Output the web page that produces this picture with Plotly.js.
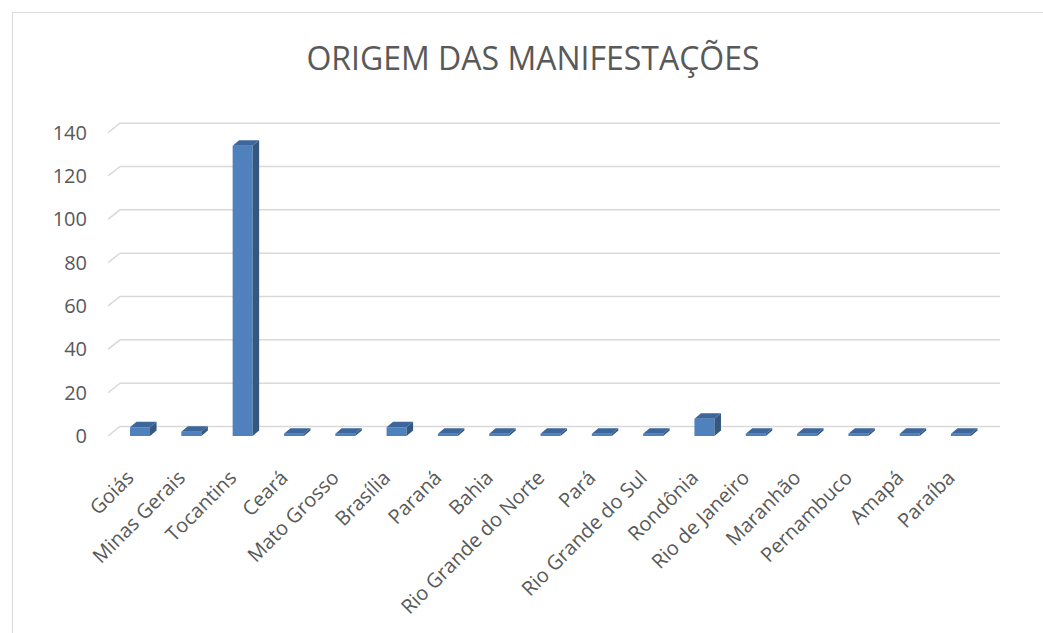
<!DOCTYPE html>
<html>
<head>
<meta charset="utf-8">
<script src="https://cdn.plot.ly/plotly-3.0.1.min.js"></script>
<style>
  html, body { margin: 0; padding: 0; background: #fff; overflow: hidden; }
  #chart { width: 1043px; height: 633px; position: relative; }
  #frame { position: absolute; left: 12px; top: 12px; width: 1100px; height: 700px;
           border: 1px solid #d9d9d9; pointer-events: none; box-sizing: border-box; }
</style>
</head>
<body>
<div id="chart"></div>
<div id="frame"></div>
<script>
const categories = ["Goiás", "Minas Gerais", "Tocantins", "Ceará", "Mato Grosso", "Brasília",
  "Paraná", "Bahia", "Rio Grande do Norte", "Pará", "Rio Grande do Sul", "Rondônia",
  "Rio de Janeiro", "Maranhão", "Pernambuco", "Amapá", "Paraíba"];
const values = [4, 2, 134, 1, 1, 4, 1, 1, 1, 1, 1, 8, 1, 1, 1, 1, 1];
const yTicks = [0, 20, 40, 60, 80, 100, 120, 140];
const titleText = "ORIGEM DAS MANIFESTAÇÕES";

// 3D look parameters (in axis units)
const xMin = -0.624, xMax = 16.76;
const barW = 0.39, barDX = 0.127, barDY = 2.54;
const wallDX = 0.234, wallDY = 4.4;

const idx = categories.map((_, i) => i);

// back-wall gridlines
const gx = [], gy = [];
yTicks.forEach(t => { gx.push(xMin, xMin + wallDX, xMax, null); gy.push(t, t + wallDY, t + wallDY, null); });

// bar faces
const fx = [], fy = [], sx = [], sy = [], tx = [], ty = [];
idx.forEach(i => {
  const v = values[i], l = i - barW / 2, r = i + barW / 2;
  fx.push(l, r, r, l, l, null); fy.push(0, 0, v, v, 0, null);
  sx.push(r, r + barDX, r + barDX, r, r, null); sy.push(0, barDY, v + barDY, v, 0, null);
  tx.push(l, l + barDX, r + barDX, r, l, null); ty.push(v, v + barDY, v + barDY, v, v, null);
});

const poly = (x, y, c) => ({ type: 'scatter', mode: 'lines', x, y, fill: 'toself', fillcolor: c,
  line: { width: 0, color: c }, hoverinfo: 'skip', showlegend: false });

const traces = [
  { type: 'scatter', mode: 'lines', x: gx, y: gy, line: { color: '#d9d9d9', width: 1.5 },
    hoverinfo: 'skip', showlegend: false },
  poly(fx, fy, '#4f81bd'),
  poly(sx, sy, '#36587f'),
  poly(tx, ty, '#3d679a')
];

const layout = {
  width: 1043, height: 633,
  paper_bgcolor: '#ffffff', plot_bgcolor: 'rgba(0,0,0,0)',
  margin: { l: 108, r: 43, t: 111, b: 197 },
  font: { family: '"Open Sans", sans-serif', color: '#595959' },
  title: { text: titleText, x: 0.511, xanchor: 'center', y: 0.907, yanchor: 'middle',
           font: { family: '"Open Sans", sans-serif', size: 32, color: '#595959' } },
  xaxis: { range: [xMin, xMax], tickmode: 'array', tickvals: idx, ticktext: categories,
           tickangle: -45, showgrid: false, zeroline: false, showline: false, ticks: '',
           ticklabelstandoff: 25, ticklabelshift: -12,
           tickfont: { size: 20, color: '#595959' }, fixedrange: true },
  yaxis: { range: [0, 150], tickmode: 'array', tickvals: yTicks, showgrid: false,
           zeroline: false, showline: false, ticks: '', ticklabelstandoff: 20,
           tickfont: { size: 20, color: '#595959' }, fixedrange: true },
  showlegend: false
};

Plotly.newPlot('chart', traces, layout, { displayModeBar: false, staticPlot: true });
</script>
</body>
</html>
